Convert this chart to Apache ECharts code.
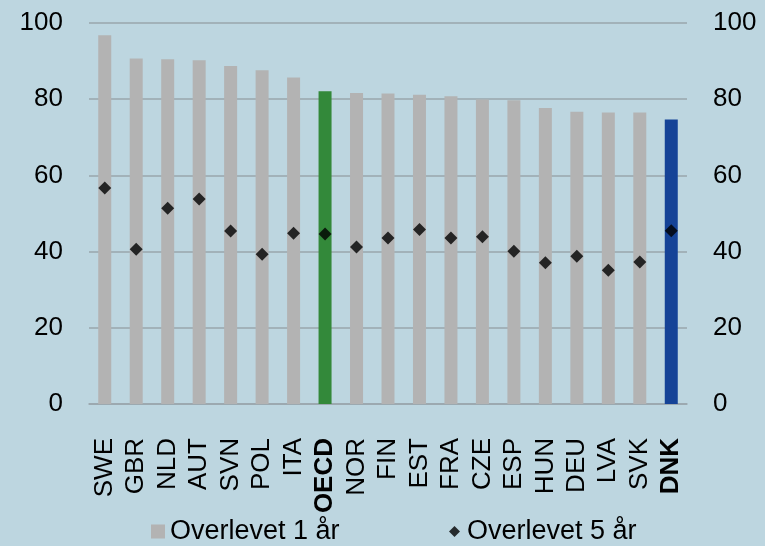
<!DOCTYPE html>
<html><head><meta charset="utf-8">
<script src="https://cdn.jsdelivr.net/npm/echarts@6/dist/echarts.min.js"></script>
<style>html,body{margin:0;padding:0;background:#BDD6E0;}#c{width:765px;height:546px;}</style>
</head><body><div id="c"></div>
<script>
const categories = ['SWE','GBR','NLD','AUT','SVN','POL','ITA','OECD','NOR','FIN','EST','FRA','CZE','ESP','HUN','DEU','LVA','SVK','DNK'];
const survived1 = [96.8,90.7,90.5,90.2,88.7,87.6,85.7,82.1,81.6,81.5,81.2,80.8,79.9,79.7,77.7,76.7,76.5,76.5,74.7];
const survived5 = [56.7,40.6,51.4,53.8,45.4,39.3,44.8,44.6,41.2,43.6,45.8,43.6,43.9,40.1,37.1,38.8,35.1,37.3,45.5];
const boldCats = ['OECD','DNK'];
const highlight = {OECD:'#33893A', DNK:'#154397'};
const yTicks = {min:0, max:100, interval:20};

const chart = echarts.init(document.getElementById('c'));
const font = 'Liberation Sans, Arial, sans-serif';
const legendText = {fontFamily:font, fontSize:27, color:'#000'};
chart.setOption({
  backgroundColor:'#BDD6E0',
  animation:false,
  grid:{left:89, right:78, top:23, bottom:142},
  legend:[
    {top:513, left:146, itemWidth:14, itemHeight:14,
     textStyle:Object.assign({padding:[0,0,0,0]}, legendText),
     data:[{name:'Overlevet 1 år', icon:'rect'}]},
    {top:513, left:444, itemWidth:11, itemHeight:11,
     textStyle:Object.assign({padding:[0,0,0,2]}, legendText),
     data:[{name:'Overlevet 5 år', icon:'diamond', itemStyle:{color:'#000'}}]}
  ],
  xAxis:{
    type:'category', data:categories,
    axisLine:{lineStyle:{color:'#9AA6AD', width:1.5}},
    axisTick:{show:false},
    axisLabel:{
      rotate:90, margin:34, interval:0, color:'#000', fontFamily:font, fontSize:26,
      formatter:v => boldCats.includes(v) ? '{b|'+v+'}' : v,
      rich:{b:{fontWeight:'bold', fontFamily:font, fontSize:26, color:'#000'}}
    }
  },
  yAxis:[
    {type:'value', min:yTicks.min, max:yTicks.max, interval:yTicks.interval,
     axisLine:{show:false}, axisTick:{show:false},
     axisLabel:{margin:26, color:'#000', fontFamily:font, fontSize:26},
     splitLine:{lineStyle:{color:'#9AA6AD', width:1.5}}},
    {type:'value', min:yTicks.min, max:yTicks.max, interval:yTicks.interval, position:'right',
     axisLine:{show:false}, axisTick:{show:false},
     axisLabel:{margin:26, color:'#000', fontFamily:font, fontSize:26},
     splitLine:{show:false}}
  ],
  series:[
    {name:'Overlevet 1 år', type:'bar', barWidth:13,
     itemStyle:{color:'#B3B3B3'},
     data:survived1.map((v,i)=> highlight[categories[i]] ? {value:v, itemStyle:{color:highlight[categories[i]]}} : v)},
    {name:'Overlevet 5 år', type:'scatter', symbol:'diamond', symbolSize:13,
     itemStyle:{color:'#000'}, data:survived5, z:5}
  ]
});
</script></body></html>
